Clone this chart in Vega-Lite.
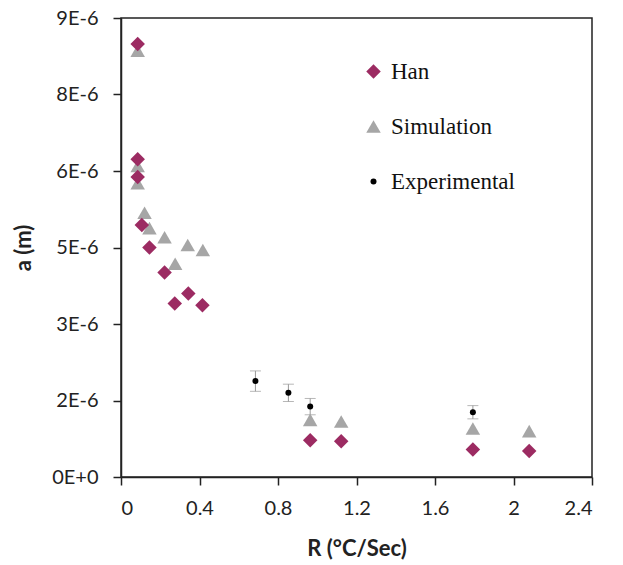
{
  "$schema": "https://vega.github.io/schema/vega-lite/v6.json",
  "width": 471,
  "height": 459,
  "autosize": {"type": "none"},
  "padding": {"left": 121, "top": 18, "right": 31, "bottom": 88},
  "background": "white",
  "config": {
    "view": {"stroke": "#222", "strokeWidth": 1.5},
    "axis": {
      "domainColor": "#222", "domainWidth": 1.5, "tickColor": "#222", "tickWidth": 1.5, "tickSize": 8,
      "grid": false, "labelFont": "Lato", "labelFontSize": 20, "labelColor": "#222",
      "titleFont": "Lato", "titleFontSize": 22, "titleFontWeight": "bold", "titleColor": "#222"
    }
  },
  "data": {
    "values": [
      {"series": "Han", "R": 0.085, "a": 8.49e-6},
      {"series": "Han", "R": 0.085, "a": 6.23e-6},
      {"series": "Han", "R": 0.085, "a": 5.88e-6},
      {"series": "Han", "R": 0.106, "a": 4.94e-6},
      {"series": "Han", "R": 0.145, "a": 4.5e-6},
      {"series": "Han", "R": 0.222, "a": 4.01e-6},
      {"series": "Han", "R": 0.274, "a": 3.4e-6},
      {"series": "Han", "R": 0.343, "a": 3.6e-6},
      {"series": "Han", "R": 0.415, "a": 3.37e-6},
      {"series": "Han", "R": 0.964, "a": 0.72e-6},
      {"series": "Han", "R": 1.122, "a": 0.7e-6},
      {"series": "Han", "R": 1.793, "a": 0.54e-6},
      {"series": "Han", "R": 2.08, "a": 0.51e-6},
      {"series": "Simulation", "R": 0.085, "a": 8.36e-6},
      {"series": "Simulation", "R": 0.085, "a": 6.1e-6},
      {"series": "Simulation", "R": 0.085, "a": 5.76e-6},
      {"series": "Simulation", "R": 0.12, "a": 5.18e-6},
      {"series": "Simulation", "R": 0.145, "a": 4.88e-6},
      {"series": "Simulation", "R": 0.222, "a": 4.7e-6},
      {"series": "Simulation", "R": 0.276, "a": 4.18e-6},
      {"series": "Simulation", "R": 0.34, "a": 4.55e-6},
      {"series": "Simulation", "R": 0.417, "a": 4.45e-6},
      {"series": "Simulation", "R": 0.964, "a": 1.12e-6},
      {"series": "Simulation", "R": 1.122, "a": 1.09e-6},
      {"series": "Simulation", "R": 1.793, "a": 0.95e-6},
      {"series": "Simulation", "R": 2.08, "a": 0.9e-6},
      {"series": "Experimental", "R": 0.685, "a": 1.88e-6, "lo": 1.68e-6, "hi": 2.08e-6},
      {"series": "Experimental", "R": 0.853, "a": 1.65e-6, "lo": 1.48e-6, "hi": 1.82e-6},
      {"series": "Experimental", "R": 0.964, "a": 1.38e-6, "lo": 1.22e-6, "hi": 1.54e-6},
      {"series": "Experimental", "R": 1.793, "a": 1.27e-6, "lo": 1.14e-6, "hi": 1.4e-6}
    ]
  },
  "layer": [
    {
      "transform": [{"filter": "datum.series == 'Experimental'"}],
      "mark": {"type": "errorbar", "ticks": {"size": 11, "color": "#999"}, "rule": {"color": "#999"}},
      "encoding": {
        "x": {"field": "R", "type": "quantitative", "title": "R (°C/Sec)"},
        "y": {"field": "lo", "type": "quantitative", "title": "a (m)"},
        "y2": {"field": "hi"}
      }
    },
    {
      "mark": {"type": "point", "filled": true, "opacity": 1},
      "encoding": {
        "x": {
          "field": "R", "type": "quantitative", "title": "R (°C/Sec)",
          "scale": {"domain": [0, 2.4], "nice": false},
          "axis": {"values": [0, 0.4, 0.8, 1.2, 1.6, 2, 2.4], "labelPadding": 13, "titlePadding": 20,
                   "labelExpr": "datum.value == 0 ? '0' : format(datum.value, '.1~f')"}
        },
        "y": {
          "field": "a", "type": "quantitative", "title": "a (m)",
          "scale": {"domain": [0, 9e-6], "nice": false},
          "axis": {"values": [0, 1.5e-6, 3e-6, 4.5e-6, 6e-6, 7.5e-6, 9e-6], "labelPadding": 15, "titlePadding": 16,
                   "labelExpr": "datum.value == 0 ? '0E+0' : toString(round(datum.value*1e6 + 0.01)) + 'E-6'"}
        },
        "color": {
          "field": "series", "type": "nominal", "title": null,
          "scale": {"domain": ["Han", "Simulation", "Experimental"], "range": ["#9C2B62", "#A6A6A6", "#000000"]},
          "legend": {
            "orient": "none", "legendX": 241, "legendY": 42, "labelFont": "Liberation Serif",
            "labelFontSize": 23, "labelColor": "#111", "rowPadding": 31, "labelOffset": 6, "symbolOpacity": 1
          }
        },
        "shape": {
          "field": "series", "type": "nominal", "title": null,
          "scale": {"domain": ["Han", "Simulation", "Experimental"], "range": ["diamond", "triangle-up", "circle"]}
        },
        "size": {
          "field": "series", "type": "nominal", "title": null,
          "scale": {"type": "ordinal", "domain": ["Han", "Simulation", "Experimental"], "range": [210, 210, 36]}
        },
        "order": {"field": "series", "sort": "descending"}
      }
    }
  ]
}
